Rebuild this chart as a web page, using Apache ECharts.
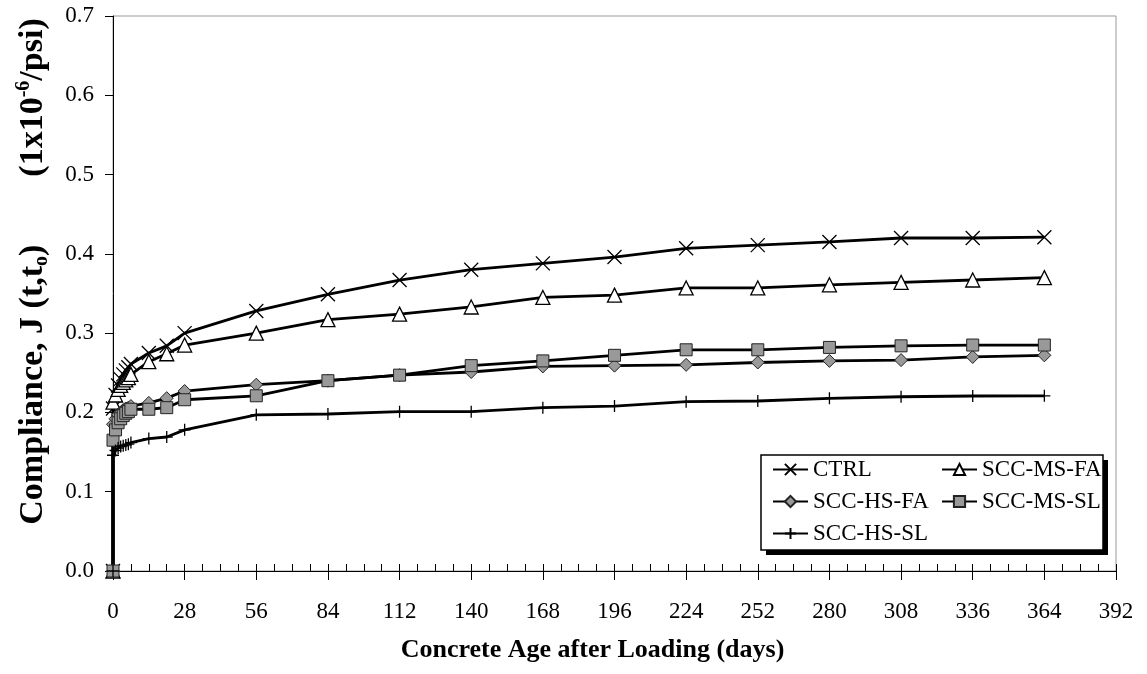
<!DOCTYPE html>
<html>
<head>
<meta charset="utf-8">
<script src="https://cdn.jsdelivr.net/npm/echarts@6/dist/echarts.min.js"></script>
<style>html,body{margin:0;padding:0;background:#fff}#c{width:1147px;height:674px}</style>
</head>
<body>
<div id="c"></div>
<script>
// Concrete age after loading (days); first 0 is the unloaded point
const days = [0, 0, 1, 2, 3, 4, 5, 6, 7, 14, 21, 28, 56, 84, 112, 140, 168, 196, 224, 252, 280, 308, 336, 364];
const ctrl   = [0, 0.205, 0.222, 0.234, 0.242, 0.248, 0.253, 0.257, 0.261, 0.275, 0.284, 0.300, 0.328, 0.349, 0.367, 0.380, 0.388, 0.396, 0.407, 0.411, 0.415, 0.420, 0.420, 0.421];
const msFA   = [0, 0.213, 0.222, 0.229, 0.234, 0.238, 0.241, 0.244, 0.248, 0.264, 0.274, 0.285, 0.300, 0.317, 0.324, 0.333, 0.345, 0.348, 0.357, 0.357, 0.361, 0.364, 0.367, 0.370];
const hsFA   = [0, 0.185, 0.192, 0.197, 0.200, 0.203, 0.205, 0.206, 0.208, 0.212, 0.218, 0.227, 0.235, 0.240, 0.247, 0.251, 0.258, 0.259, 0.260, 0.263, 0.265, 0.266, 0.270, 0.272];
const msSL   = [0, 0.165, 0.178, 0.187, 0.192, 0.196, 0.199, 0.201, 0.204, 0.204, 0.206, 0.216, 0.221, 0.240, 0.247, 0.259, 0.265, 0.272, 0.279, 0.279, 0.282, 0.284, 0.285, 0.285];
const hsSL   = [0, 0.146, 0.152, 0.155, 0.157, 0.158, 0.159, 0.160, 0.162, 0.167, 0.169, 0.178, 0.197, 0.198, 0.201, 0.201, 0.206, 0.208, 0.2135, 0.2144, 0.2178, 0.2198, 0.2207, 0.221];
const seriesNames = ['CTRL', 'SCC-MS-FA', 'SCC-HS-FA', 'SCC-MS-SL', 'SCC-HS-SL'];
const xTicks = [0, 28, 56, 84, 112, 140, 168, 196, 224, 252, 280, 308, 336, 364, 392];
const yTicks = [0.0, 0.1, 0.2, 0.3, 0.4, 0.5, 0.6, 0.7];

const FONT = '"Liberation Serif", "Times New Roman", serif';
const pairs = vals => days.map((d, i) => [d, vals[i]]);

function mk(name, vals, symbol, size, fill, stroke, bw) {
  return {
    name: name, type: 'line', data: pairs(vals),
    symbol: symbol, symbolSize: size, showSymbol: true,
    lineStyle: { color: '#000', width: 2.8 },
    itemStyle: { color: fill, borderColor: stroke, borderWidth: bw, opacity: 1 },
    emphasis: { disabled: true },
    z: 3
  };
}

const chart = echarts.init(document.getElementById('c'));
chart.setOption({
  animation: false,
  backgroundColor: '#fff',
  grid: { left: 113, right: 31, top: 16, bottom: 103, show: true, borderColor: '#999', borderWidth: 1, backgroundColor: 'transparent' },
  xAxis: [{
    type: 'value', min: xTicks[0], max: xTicks[xTicks.length - 1], interval: 28,
    name: 'Concrete Age after Loading (days)', nameLocation: 'middle', nameGap: 66,
    nameTextStyle: { fontFamily: FONT, fontSize: 26, fontWeight: 'bold', color: '#000', padding: [0, 44, 0, 0] },
    axisLine: { show: true, lineStyle: { color: '#000', width: 1 } },
    axisTick: { show: true, inside: true, length: 7, lineStyle: { color: '#000', width: 1 } },
    minorTick: { show: true, splitNumber: 4, length: 7, lineStyle: { color: '#000', width: 1 } },
    splitLine: { show: false }, minorSplitLine: { show: false },
    axisLabel: { fontFamily: FONT, fontSize: 23, color: '#000', margin: 29, showMaxLabel: true }
  }, {
    type: 'value', min: xTicks[0], max: xTicks[xTicks.length - 1], interval: 28, position: 'bottom',
    axisLine: { show: false },
    axisTick: { show: true, inside: false, length: 9, lineStyle: { color: '#000', width: 1 } },
    axisLabel: { show: false }, splitLine: { show: false }
  }],
  yAxis: {
    type: 'value', min: yTicks[0], max: yTicks[yTicks.length - 1], interval: 0.1,
    name: '{b|Compliance, J (t,t}{sb|o}{b|)        (1x10}{sp|-6}{b|/psi)}',
    nameLocation: 'middle', nameGap: 61, nameRotate: 90,
    nameTextStyle: {
      padding: [0, 0, 0, 44],
      rich: {
        b: { fontFamily: FONT, fontSize: 34, fontWeight: 'bold', color: '#000', lineHeight: 38 },
        sb: { fontFamily: FONT, fontSize: 20, fontWeight: 'bold', color: '#000', lineHeight: 38, verticalAlign: 'bottom' },
        sp: { fontFamily: FONT, fontSize: 20, fontWeight: 'bold', color: '#000', lineHeight: 38, verticalAlign: 'top' }
      }
    },
    axisLine: { show: true, lineStyle: { color: '#000', width: 1 } },
    axisTick: { show: true, inside: false, length: 8, lineStyle: { color: '#000', width: 1 } },
    splitLine: { show: false },
    axisLabel: { fontFamily: FONT, fontSize: 23, color: '#000', margin: 19, formatter: v => v.toFixed(1) }
  },
  legend: [{
    data: [seriesNames[0], seriesNames[2], seriesNames[4]],
    orient: 'vertical', left: 767, top: 453, itemWidth: 35, itemHeight: 14, itemGap: 9,
    textStyle: { fontFamily: FONT, fontSize: 23, color: '#000' }, selectedMode: false, z: 10
  }, {
    data: [seriesNames[1], seriesNames[3]],
    orient: 'vertical', left: 936, top: 453, itemWidth: 35, itemHeight: 14, itemGap: 9,
    textStyle: { fontFamily: FONT, fontSize: 23, color: '#000' }, selectedMode: false, z: 10
  }],
  graphic: [
    { type: 'rect', shape: { x: 766, y: 460, width: 342, height: 95 }, style: { fill: '#000' }, z: 5 },
    { type: 'rect', shape: { x: 761, y: 455, width: 342, height: 95 }, style: { fill: '#fff', stroke: '#000', lineWidth: 1.5 }, z: 6 }
  ],
  series: [
    mk(seriesNames[0], ctrl, 'path://M0 0L10 10M10 0L0 10', 14, '#000', '#000', 1.3),
    mk(seriesNames[1], msFA, 'triangle', 14, '#fff', '#000', 1.3),
    mk(seriesNames[2], hsFA, 'diamond', 13, '#999', '#222', 1),
    mk(seriesNames[3], msSL, 'rect', 12, '#999', '#222', 1),
    mk(seriesNames[4], hsSL, 'path://M5 0L5 10M0 5L10 5', 12, '#000', '#000', 1.3)
  ]
});
</script>
</body>
</html>
